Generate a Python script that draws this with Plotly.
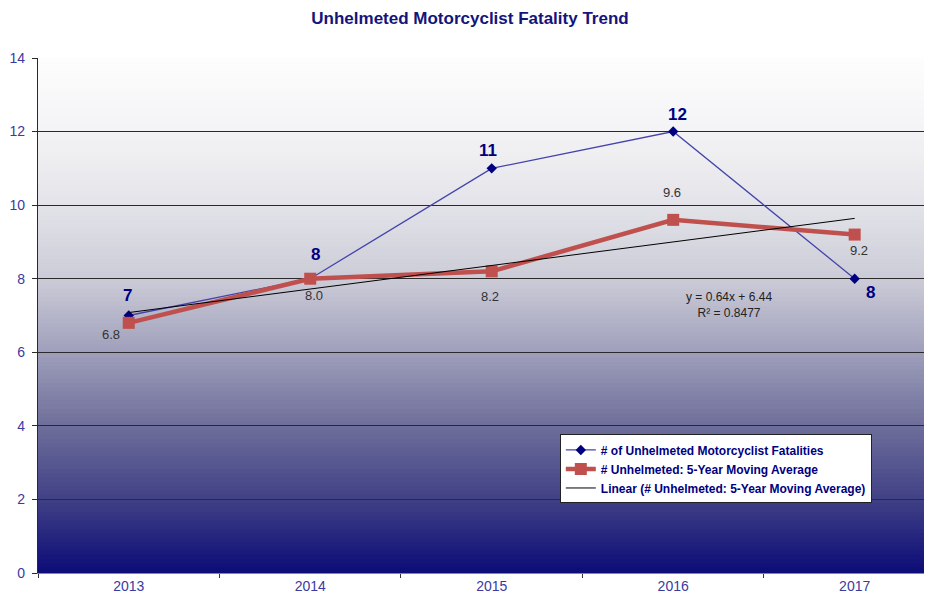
import plotly.graph_objects as go

years = ['2013', '2014', '2015', '2016', '2017']
fatalities = [7, 8, 11, 12, 8]
moving_avg = [6.8, 8.0, 8.2, 9.6, 9.2]
trend = [7.08, 7.72, 8.36, 9.00, 9.64]
avg_labels = ['6.8', '8.0', '8.2', '9.6', '9.2']

FONT = 'Arial, Liberation Sans, sans-serif'
NAVY = '#000080'

# pixel offsets of the data labels from their points
fat_offsets = [(-1, 20), (5, 24), (-4, 18), (4, 17), (16, -14)]
avg_offsets = [(-18, -12), (4, -17), (-2, -25), (-1, 27), (4, -16)]

fig = go.Figure()

# gradient background: white at top to dark navy at bottom
stops = [
    (0.0, (253, 253, 253)),
    (0.14, (244, 244, 246)),
    (0.28, (228, 228, 234)),
    (0.43, (204, 204, 216)),
    (0.57, (160, 160, 188)),
    (0.71, (112, 112, 156)),
    (0.86, (64, 64, 134)),
    (1.0, (12, 12, 120)),
]

def grad_color(t):
    for (t0, c0), (t1, c1) in zip(stops[:-1], stops[1:]):
        if t0 <= t <= t1:
            f = (t - t0) / (t1 - t0)
            return 'rgb(%d,%d,%d)' % tuple(round(a + (b - a) * f) for a, b in zip(c0, c1))
    return 'rgb(12,12,120)'

n = 120
for i in range(n):
    t = (i + 0.5) / n
    fig.add_shape(type='rect', xref='x domain', yref='y domain',
                  x0=0, x1=1, y0=1 - (i + 1) / n, y1=1 - i / n + 0.002,
                  fillcolor=grad_color(t), line_width=0, layer='below')

fig.add_trace(go.Scatter(
    x=years, y=fatalities,
    mode='lines+markers',
    line=dict(color='#4444aa', width=1.3),
    marker=dict(symbol='diamond', color=NAVY, size=8),
    name='# of Unhelmeted Motorcyclist Fatalities'
))

fig.add_trace(go.Scatter(
    x=years, y=moving_avg,
    mode='lines+markers',
    line=dict(color='#c0504d', width=4.5),
    marker=dict(symbol='square', color='#c0504d', size=12),
    name='# Unhelmeted: 5-Year Moving Average'
))

fig.add_trace(go.Scatter(
    x=years, y=trend,
    mode='lines',
    line=dict(color='black', width=1),
    name='Linear (# Unhelmeted: 5-Year Moving Average)'
))

# data labels (category index used as x position)
for i, (v, (dx, dy)) in enumerate(zip(fatalities, fat_offsets)):
    fig.add_annotation(x=i, y=v, text=str(v), showarrow=False, xshift=dx, yshift=dy,
                       font=dict(family=FONT, size=17, color=NAVY, weight='bold'))
for i, (v, lbl, (dx, dy)) in enumerate(zip(moving_avg, avg_labels, avg_offsets)):
    fig.add_annotation(x=i, y=v, text=lbl, showarrow=False, xshift=dx, yshift=dy,
                       font=dict(family=FONT, size=13, color='#333333'))

fig.add_annotation(
    x=3.31, y=7.29, xref='x', yref='y',
    text='y = 0.64x + 6.44<br>R² = 0.8477',
    showarrow=False,
    font=dict(family=FONT, size=12, color='#222222')
)

fig.update_layout(
    width=924, height=592,
    margin=dict(l=30, r=2, t=50, b=27),
    paper_bgcolor='white',
    plot_bgcolor='rgba(0,0,0,0)',
    title=dict(text='Unhelmeted Motorcyclist Fatality Trend', x=0.5, xanchor='center',
               y=1, yanchor='top', pad=dict(t=4),
               font=dict(family=FONT, size=17, color='#14147a', weight='bold')),
    xaxis=dict(type='category', range=[-0.5, 4.415],
               showgrid=False, showline=True, linecolor='#888888', linewidth=1,
               ticks='outside', tickson='boundaries', ticklen=4, tickcolor='#333333',
               tickfont=dict(family=FONT, size=14, color='#3a3aa0')),
    yaxis=dict(range=[0, 14], dtick=2, showgrid=True, gridcolor='#2a2a2a', gridwidth=1.4,
               showline=True, linecolor='#2a2a2a', linewidth=1.4,
               ticks='outside', ticklen=5, tickcolor='#2a2a2a',
               zeroline=False, ticklabelstandoff=4,
               tickfont=dict(family=FONT, size=14, color='#3a3aa0')),
    legend=dict(x=0.585, y=0.202, xanchor='left', yanchor='middle',
                bgcolor='white', bordercolor='#222222', borderwidth=1,
                font=dict(family=FONT, size=12, color=NAVY, weight='bold'),
                tracegroupgap=0, itemwidth=30),
    showlegend=True
)

fig.write_html("out.html")
